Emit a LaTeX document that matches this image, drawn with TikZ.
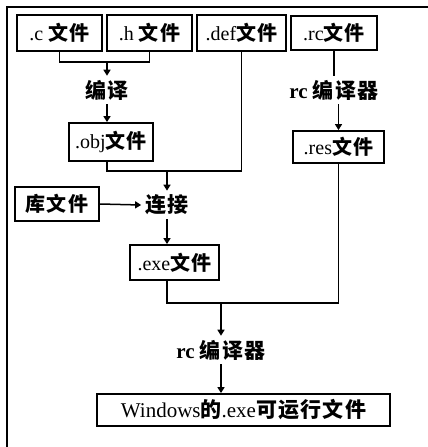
\documentclass[tikz,border=0pt]{standalone}
\usepackage{fontspec}
\setmainfont{Liberation Serif}
\newfontfamily\cjk[LetterSpace=6]{Noto Sans CJK SC}
\usetikzlibrary{arrows.meta}
\newcommand\zh[1]{{\cjk\bfseries #1}}
\begin{document}
\begin{tikzpicture}[x=1pt,y=-1pt,
  box/.style={draw,line width=1.8pt,inner sep=0pt,font=\fontsize{20}{22}\selectfont},
  lab/.style={inner sep=4pt,font=\fontsize{21}{23}\selectfont\bfseries},
  conn/.style={line width=1.5pt},
  arr/.style={line width=1.5pt,-{Triangle[length=6pt,width=7pt]}}]
\useasboundingbox (0,0) rectangle (428,447);
\draw[line width=1.5pt] (428,7) -- (7,7) -- (7,447);

\node[box,minimum width=85pt,minimum height=36pt] (c) at (59.5,33) {.c \zh{文件}};
\node[box,minimum width=85pt,minimum height=36pt] (h) at (149.5,33) {.h \zh{文件}};
\node[box,minimum width=89pt,minimum height=36pt] (def) at (241.5,33) {.def\zh{文件}};
\node[box,minimum width=86pt,minimum height=34pt] (rc) at (334,33) {.rc\zh{文件}};
\node[lab] (bianyi) at (107,90) {\zh{编译}};
\node[lab] (rcc1) at (334,90) {rc \zh{编译器}};
\node[box,minimum width=84pt,minimum height=38pt] (obj) at (111,142) {.obj\zh{文件}};
\node[box,minimum width=91pt,minimum height=32pt] (res) at (338.5,147) {.res\zh{文件}};
\node[box,minimum width=84pt,minimum height=34pt] (lib) at (57,204) {\zh{库文件}};
\node[lab] (link) at (167,205) {\zh{连接}};
\node[box,minimum width=89pt,minimum height=35pt] (exe) at (174.5,262.5) {.exe\zh{文件}};
\node[lab] (rcc2) at (221,350) {rc \zh{编译器}};
\node[box,minimum width=293pt,minimum height=32pt,font=\fontsize{21}{23}\selectfont] (win) at (243.5,410) {Windows\zh{的}.exe\zh{可运行文件}};

\coordinate (j1) at (107,62);
\coordinate (j2) at (167,171);
\coordinate (j3) at (221,303);

\draw[conn] (c.south) |- (j1) -| (h.south);
\draw[arr] (j1) -- (bianyi.north);
\draw[arr] (bianyi.south) -- (bianyi.south |- obj.north);
\draw[conn] (bianyi.south |- obj.south) |- (j2) -| (def.south);
\draw[arr] (j2) -- (link.north);
\draw[arr] (lib.east) -- (link.west);
\draw[arr] (link.south) -- (link.south |- exe.north);
\draw[conn] (rc.south) -- (rcc1.north);
\draw[arr] (res.north |- rcc1.south) -- (res.north);
\draw[conn] (link.south |- exe.south) |- (j3) -| (res.south);
\draw[arr] (j3) -- (rcc2.north);
\draw[arr] (rcc2.south) -- (rcc2.south |- win.north);
\end{tikzpicture}
\end{document}
